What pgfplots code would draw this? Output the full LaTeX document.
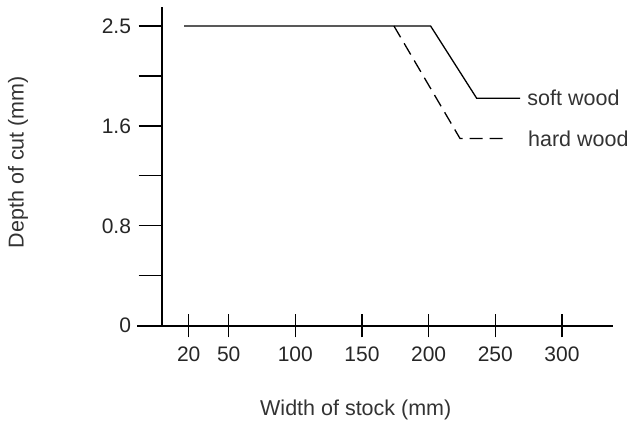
\documentclass[border=0pt]{standalone}
\usepackage{fontspec}
\setmainfont{Liberation Sans}
\usepackage{pgfplots}
\pgfplotsset{compat=1.18}
\newcommand\lab{\fontsize{21.5bp}{25bp}\selectfont}
\newcommand\tlab{\fontsize{21bp}{25bp}\selectfont}
\begin{document}
\begin{tikzpicture}
\path[use as bounding box] (-137.5bp,-100.3bp) rectangle (496.5bp,325.7bp);
\begin{axis}[
  width=475.5bp, height=318.4bp, scale only axis,
  xmin=-18.4, xmax=338.3, ymin=0, ymax=2.669,
  y coord trafo/.code={\pgfmathparse{#1>1.6 ? 1.6+(#1-1.6)*8/9 : #1}},
  axis x line=bottom, axis y line=center,
  hide obscured x ticks=false, hide obscured y ticks=false,
  axis line style={-, line width=1.6bp},
  major tick style={line width=1.2bp, black},
  major tick length=23.5bp,
  xtick align=center, ytick align=outside,
  xtick={20,50,100,150,200,250,300},
  ytick={0,0.4,0.8,1.2,1.6,2.05,2.5},
  yticklabels={0,,0.8,,1.6,,2.5},
  /pgf/number format/assume math mode=true,
  tick label style={font=\tlab, text=black!85},
  xticklabel style={yshift=-6bp},
  yticklabel style={xshift=-4bp},
  xlabel={Width of stock (mm)},
  ylabel={Depth of cut (mm)},
  label style={font=\lab, text=black!80},
  xlabel style={at={(axis description cs:0.459,-0.2805)}, anchor=base},
  ylabel style={at={(axis description cs:-0.2513,0.514)}, anchor=center, rotate=90},
  clip=false,
]
% soft wood
\addplot[black, line width=1.3bp] coordinates {(16.5,2.5)(201.5,2.5)(236,1.85)(268.6,1.85)};
% hard wood
\addplot[black, line width=1.3bp, dash pattern=on 13bp off 7bp] coordinates {(174,2.5)(223.5,1.5)(257,1.5)};
\node[anchor=west, inner sep=0, font=\lab, text=black!80] at (axis cs:274,1.85) {soft wood};
\node[anchor=west, inner sep=0, font=\lab, text=black!80] at (axis cs:274.5,1.5) {hard wood};
\end{axis}
\end{tikzpicture}
\end{document}
